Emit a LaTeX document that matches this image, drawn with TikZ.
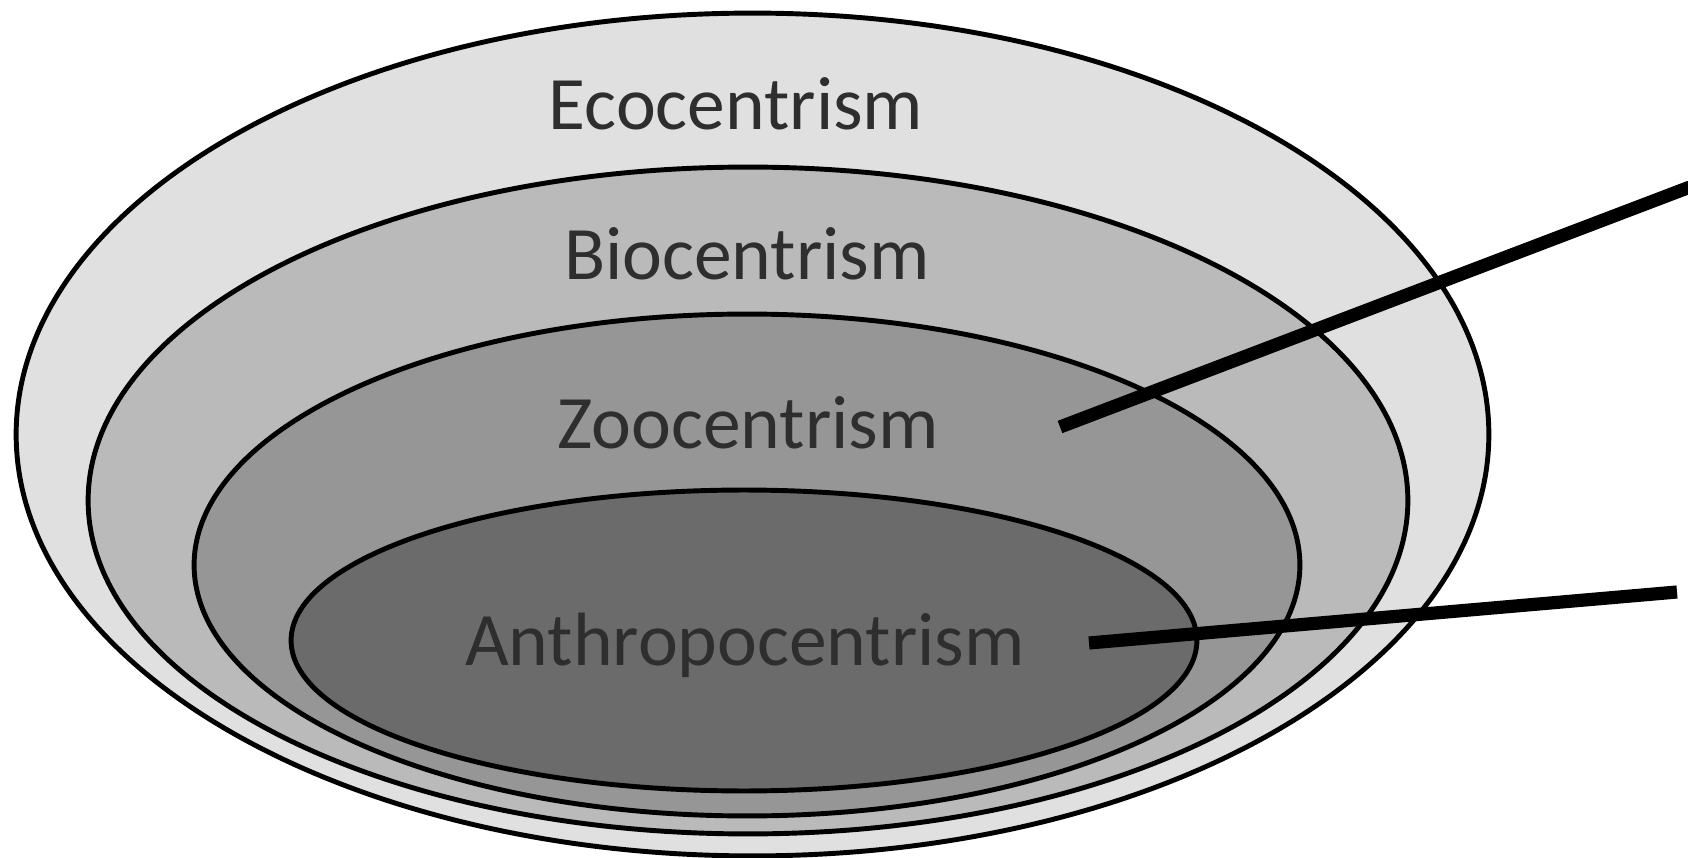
\documentclass[tikz,border=0pt]{standalone}
\usepackage{fontspec}
\setmainfont{Carlito}
\usepackage{tikz}
\usetikzlibrary{shapes.geometric}
\definecolor{ringa}{gray}{0.88}
\definecolor{ringb}{gray}{0.73}
\definecolor{ringc}{gray}{0.59}
\definecolor{ringd}{gray}{0.42}
\tikzset{
  ring/.style={ellipse,draw=black,line width=2.8pt,inner sep=0pt},
  lb/.style={font=\fontsize{43}{48}\selectfont,text=black!82,anchor=base,inner sep=0pt},
  ptr/.style={draw=black,line width=7.5pt},
}
\begin{document}
\begin{tikzpicture}[x=0.02cm,y=-0.02cm]
\useasboundingbox (0,0) rectangle (1688,858);
% nested rings, outermost first
\node[ring,fill=ringa,minimum width=29.46cm,minimum height=16.86cm] (eco) at (752.5,434.5) {};
\node[ring,fill=ringb,minimum width=26.4cm,minimum height=13.34cm] (bio) at (748,500.5) {};
\node[ring,fill=ringc,minimum width=22.12cm,minimum height=10.04cm] (zoo) at (747,565) {};
\node[ring,fill=ringd,minimum width=18.12cm,minimum height=6.02cm] (anth) at (744,640.5) {};
\node[lb] (ecot) at (736,130) {Ecocentrism};
\node[lb] (biot) at (747,280) {Biocentrism};
\node[lb] (zoot) at (748,448) {Zoocentrism};
\node[lb] (antht) at (745,665) {Anthropocentrism};
% pointer lines leaving the picture on the right
\coordinate (zp) at (1060,427);
\coordinate (zq) at (1690,187);
\coordinate (ap) at (1089,643);
\coordinate (aq) at (1677,592);
\draw[ptr] (zp)--(zq) (ap)--(aq);
\end{tikzpicture}
\end{document}
